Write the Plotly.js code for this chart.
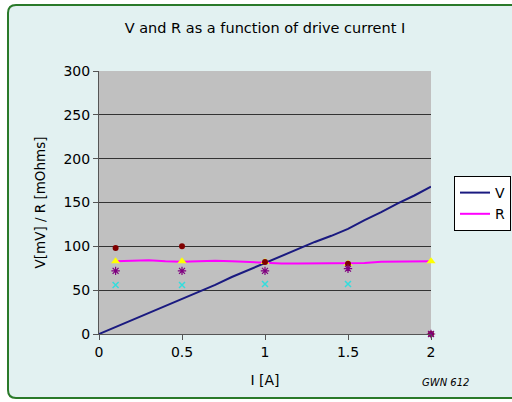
<!DOCTYPE html>
<html>
<head>
<meta charset="utf-8">
<script src="https://cdn.plot.ly/plotly-3.0.1.min.js"></script>
<style>html,body{margin:0;padding:0;background:#fff;}#chart{width:512px;height:402px;}</style>
</head>
<body>
<div id="chart"></div>
<script>
// Data
const currentI = [0, 0.1, 0.2, 0.3, 0.4, 0.5, 0.6, 0.7, 0.8, 0.9, 1.0, 1.1, 1.2, 1.3, 1.4, 1.5, 1.6, 1.7, 1.8, 1.9, 2.0];
const voltageV = [0, 8, 16, 24, 32, 40, 48, 56, 65, 73, 81, 89, 97, 105, 112, 120, 130, 139, 149, 158, 168];
const resistI = [0.1, 0.2, 0.3, 0.4, 0.5, 0.6, 0.7, 0.8, 0.9, 1.0, 1.1, 1.2, 1.3, 1.4, 1.5, 1.6, 1.7, 1.8, 1.9, 2.0];
const resistR = [83, 83.5, 84, 83, 82.5, 83, 83.5, 83, 82, 81, 80.5, 80.5, 80.5, 80.5, 80.5, 81, 82.5, 82.5, 82.5, 83];

const sampleI = [0.1, 0.5, 1.0, 1.5, 2.0];
const triR = [83, 83, 82, 80, 83];
const dotR = [98, 100, 82, 80, 0];
const starR = [72, 72, 72, 74.5, 0];
const crossI = [0.1, 0.5, 1.0, 1.5];
const crossR = [56, 56, 57, 57];

const W = 512, H = 402;
const M = {l: 99, r: 81, t: 71, b: 68, autoexpand: false};
const pw = W - M.l - M.r, ph = H - M.t - M.b;
const px = v => (v - M.l) / pw;
const py = v => (H - M.b - v) / ph;

const x0 = px(8), x1 = px(518), yT = py(5), yB = py(398);
const dx = 8 / pw, dy = 8 / ph;
const border = `M ${x0+dx},${yT} L ${x1},${yT} L ${x1},${yB} L ${x0+dx},${yB} Q ${x0},${yB} ${x0},${yB+dy} L ${x0},${yT-dy} Q ${x0},${yT} ${x0+dx},${yT} Z`;

const traces = [
  {x: currentI, y: voltageV, name: 'V', mode: 'lines', line: {color: '#1a1a80', width: 2}},
  {x: resistI, y: resistR, name: 'R', mode: 'lines', line: {color: '#ff00ff', width: 2}},
  {x: sampleI, y: triR, mode: 'markers', showlegend: false, cliponaxis: false, marker: {symbol: 'triangle-up', color: '#ffff00', size: 8}},
  {x: sampleI, y: dotR, mode: 'markers', showlegend: false, cliponaxis: false, marker: {symbol: 'circle', color: '#800000', size: 6}},
  {x: sampleI, y: starR, mode: 'markers', showlegend: false, cliponaxis: false, marker: {symbol: 'asterisk-open', color: '#800080', size: 7, line: {color: '#800080', width: 1.2}}},
  {x: crossI, y: crossR, mode: 'markers', showlegend: false, cliponaxis: false, marker: {symbol: 'x-thin-open', color: '#33dddd', size: 6, line: {color: '#33dddd', width: 1.5}}}
];

const layout = {
  width: W, height: H,
  margin: M,
  paper_bgcolor: '#ffffff',
  plot_bgcolor: '#c0c0c0',
  font: {family: '"DejaVu Sans", Arial, sans-serif', color: '#000', size: 14},
  title: {text: 'V and R as a function of drive current I', font: {size: 14.5}, x: 0.5, xref: 'paper', xanchor: 'center', y: 1 - 28 / H, yanchor: 'middle'},
  xaxis: {
    range: [0, 2], tickvals: [0, 0.5, 1, 1.5, 2], ticktext: ['0', '0.5', '1', '1.5', '2'],
    ticks: 'outside', ticklen: 5, tickcolor: '#555', showgrid: false, zeroline: false,
    showline: true, linecolor: '#555', linewidth: 1,
    tickfont: {size: 14},
    title: {text: 'I [A]', font: {size: 14}, standoff: 16}
  },
  yaxis: {
    range: [0, 300], tickvals: [0, 50, 100, 150, 200, 250, 300],
    ticks: 'outside', ticklen: 5, tickcolor: '#555', showgrid: true, gridcolor: '#333', gridwidth: 1,
    zeroline: false, showline: true, linecolor: '#555', linewidth: 1,
    tickfont: {size: 14},
    title: {text: 'V[mV] / R [mOhms]', font: {size: 13.5}, standoff: 14}
  },
  legend: {
    x: px(454), y: py(176), xanchor: 'left', yanchor: 'top',
    bgcolor: '#ffffff', bordercolor: '#000', borderwidth: 1,
    font: {size: 14}, tracegroupgap: 0, itemwidth: 30
  },
  shapes: [
    {type: 'path', xref: 'paper', yref: 'paper', path: border, fillcolor: '#e2f1f1', line: {color: '#2a7a2a', width: 2}, layer: 'below'},
    {type: 'rect', xref: 'x domain', yref: 'y domain', x0: 0, x1: 1, y0: 0, y1: 1, fillcolor: '#c0c0c0', line: {width: 0}, layer: 'below'}
  ],
  annotations: [
    {text: 'GWN 612', xref: 'paper', yref: 'paper', x: px(446), y: py(382), xanchor: 'center', yanchor: 'middle', showarrow: false, font: {size: 10, style: 'italic'}}
  ]
};

Plotly.newPlot('chart', traces, layout, {displayModeBar: false, staticPlot: true});
</script>
</body>
</html>
